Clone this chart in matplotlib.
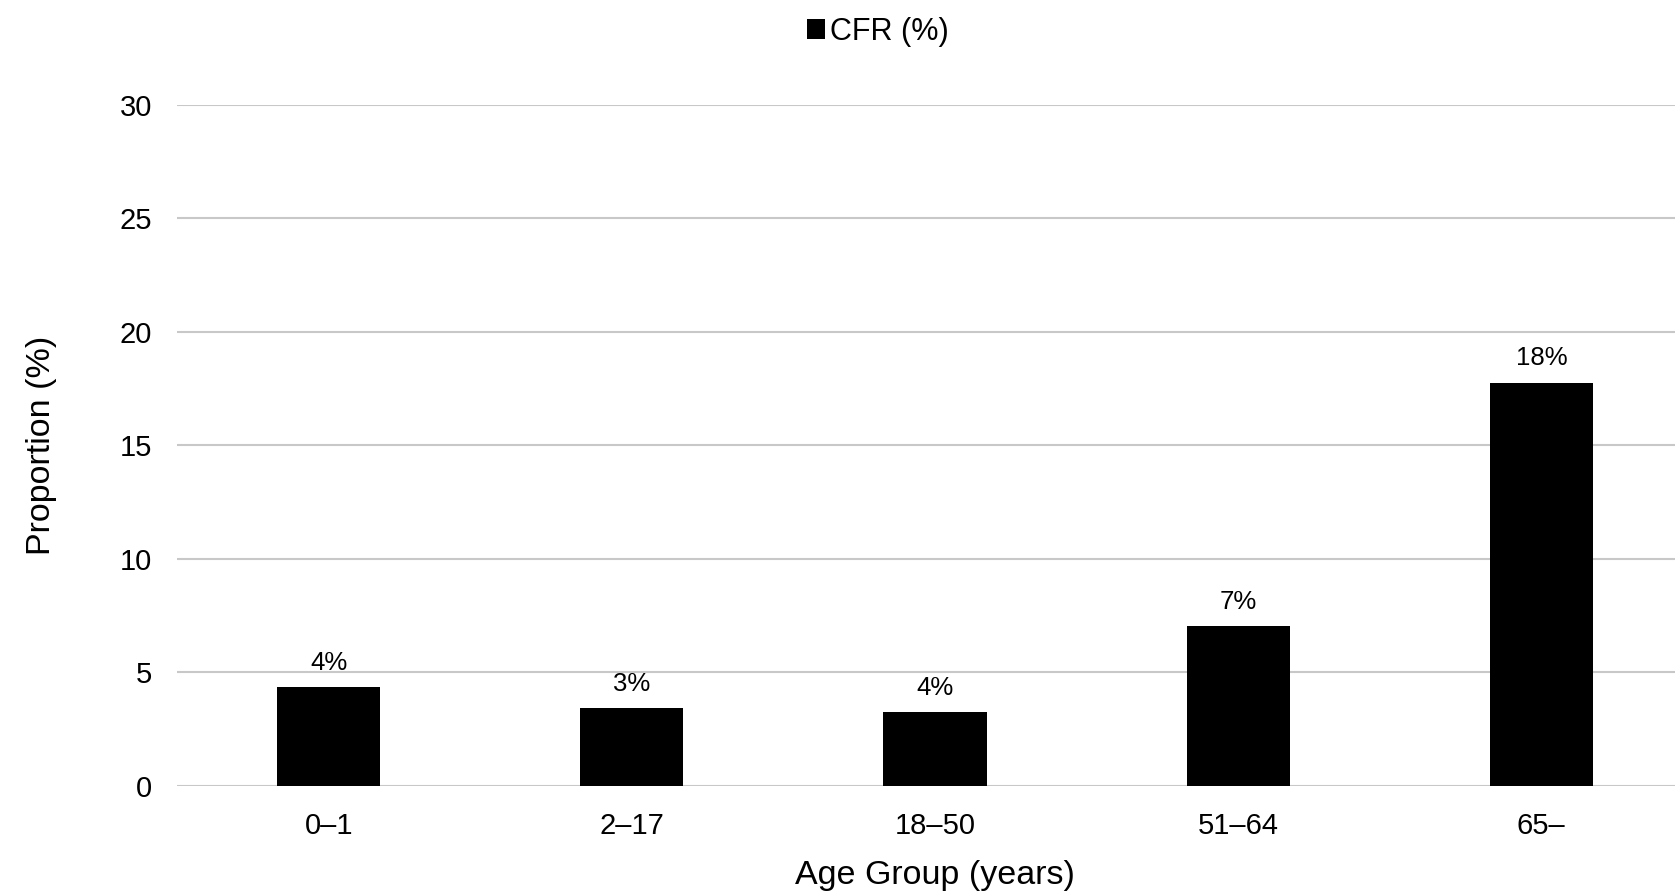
import matplotlib.pyplot as plt

plt.rcParams['font.family'] = ['Liberation Sans', 'DejaVu Sans']

age_groups = ["0\u20131", "2\u201317", "18\u201350", "51\u201364", "65\u2013"]
cfr = [4.34, 3.43, 3.25, 7.04, 17.76]
bar_labels = ["4%", "3%", "4%", "7%", "18%"]
y_ticks = [0, 5, 10, 15, 20, 25, 30]

fig = plt.figure(figsize=(16.75, 8.96), dpi=100)
ax = fig.add_axes([0.1057, 0.1228, 0.905, 0.7603])

x = range(len(age_groups))
bars = ax.bar(x, cfr, width=0.34, color="black", label="CFR (%)", zorder=3)

for b, lab in zip(bars, bar_labels):
    ax.annotate(lab, (b.get_x() + b.get_width() / 2, b.get_height()),
                xytext=(0, 9), textcoords="offset points",
                ha="center", va="bottom", fontsize=18.5)

ax.set_xlim(-0.5, 4.5)
ax.set_ylim(0, 30)
ax.set_yticks(y_ticks)
ax.set_xticks(list(x))
ax.set_xticklabels(age_groups)
ax.tick_params(axis="both", length=0, labelsize=21)
ax.tick_params(axis="y", pad=18)
ax.tick_params(axis="x", pad=19)
ax.yaxis.grid(True, color="#c8c8c8", linewidth=1.5, zorder=0)
for s in ["top", "right", "left", "bottom"]:
    ax.spines[s].set_visible(False)

ax.set_xlabel("Age Group (years)", fontsize=24.5, labelpad=14)
ax.set_ylabel("Proportion (%)", fontsize=24.5, labelpad=45)

fig.legend(handles=[bars], labels=["CFR (%)"], loc="upper center",
           bbox_to_anchor=(0.524, 1.012), frameon=False, fontsize=22,
           handlelength=0.6, handleheight=0.6, handletextpad=0.15)

fig.savefig("out.png", dpi=100)
